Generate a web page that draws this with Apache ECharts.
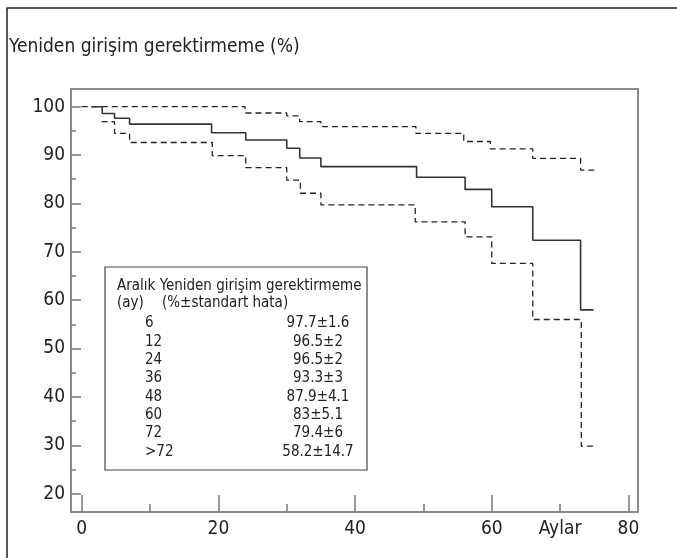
<!DOCTYPE html>
<html>
<head>
<meta charset="utf-8">
<script src="https://cdn.jsdelivr.net/npm/echarts@6/dist/echarts.min.js"></script>
<style>
  html, body { margin: 0; padding: 0; background: #fff; }
  #main { width: 677px; height: 558px; }
</style>
</head>
<body>
<div id="main"></div>
<script>
const FONT = '"Liberation Sans Narrow", "DejaVu Sans Condensed", "Arial Narrow", sans-serif';

// [ay, %] step points of the curves
const estimate = [[1.4, 100], [3.0, 98.6], [4.8, 97.6], [7.0, 96.4], [19.0, 94.6], [24.0, 93.1],
  [30.0, 91.4], [31.9, 89.4], [35.0, 87.6], [49.0, 85.4], [56.1, 82.9], [60.0, 79.3],
  [66.0, 72.4], [73.0, 58.0], [74.9, 58.0]];
const upperCI = [[0, 100], [23.9, 98.7], [30.0, 98.1], [31.9, 96.9], [35.0, 95.9], [48.9, 94.5],
  [55.9, 92.8], [59.8, 91.3], [66.0, 89.3], [73.0, 86.9], [75.2, 86.9]];
const lowerCI = [[2.9, 96.9], [4.8, 94.5], [7.0, 92.6], [19.1, 89.9], [24.0, 87.4], [30.0, 84.8],
  [32.0, 82.1], [35.0, 79.7], [48.8, 76.2], [56.1, 73.1], [60.0, 67.6], [66.0, 56.0],
  [73.1, 29.8], [74.9, 29.8]];

const xMajor = [0, 20, 40, 60, 80];
const xMinor = [10, 30, 50, 70];
const xLabels = [0, 20, 40, 60, 70, 80];
const yMajor = [20, 30, 40, 50, 60, 70, 80, 90, 100];
const yMinor = [25, 35, 45, 55, 65, 75, 85, 95];

const tableIntervals = ['6', '12', '24', '36', '48', '60', '72', '>72'];
const tableValues = ['97.7±1.6', '96.5±2', '96.5±2', '93.3±3', '87.9±4.1', '83±5.1', '79.4±6', '58.2±14.7'];

const X_MIN = -1.57, X_MAX = 81.4, Y_MIN = 16.2, Y_MAX = 103.66;
const gray = '#8a8a8a';
const TF = '15px ' + FONT;

const tableGraphic = [
  { type: 'rect', shape: { x: 105, y: 267, width: 262, height: 203 },
    style: { fill: '#fff', stroke: '#444', lineWidth: 1.2 } },
  { type: 'text', x: 117, y: 286, style: { text: 'Aralık Yeniden girişim gerektirmeme', font: TF, fill: '#222', verticalAlign: 'middle' } },
  { type: 'text', x: 117, y: 303, style: { text: '(ay)', font: TF, fill: '#222', verticalAlign: 'middle' } },
  { type: 'text', x: 162, y: 303, style: { text: '(%±standart hata)', font: TF, fill: '#222', verticalAlign: 'middle' } }
];
tableIntervals.forEach((t, i) => {
  const y = 323.3 + i * 18.34;
  tableGraphic.push({ type: 'text', x: 145, y: y, style: { text: t, font: TF, fill: '#222', verticalAlign: 'middle' } });
  tableGraphic.push({ type: 'text', x: 318, y: y, style: { text: tableValues[i], font: TF, fill: '#222', align: 'center', verticalAlign: 'middle' } });
});

const chart = echarts.init(document.getElementById('main'));
chart.setOption({
  animation: false,
  title: {
    text: 'Yeniden girişim gerektirmeme (%)',
    left: 4, top: 33,
    textStyle: { fontFamily: FONT, fontSize: 19, fontWeight: 'normal', color: '#222' }
  },
  grid: { left: 71, top: 89, right: 39, bottom: 46, show: true, borderColor: gray, borderWidth: 2, backgroundColor: 'transparent' },
  xAxis: [
    {
      type: 'value', min: X_MIN, max: X_MAX, position: 'bottom',
      axisLine: { show: true, onZero: false, lineStyle: { color: gray, width: 2 } },
      axisTick: { show: true, inside: true, length: 17, customValues: xMajor, lineStyle: { color: '#777', width: 1.5 } },
      axisLabel: { customValues: xLabels, formatter: v => (v === 70 ? 'Aylar' : String(v)), margin: 8,
        fontFamily: FONT, fontSize: 19, color: '#222' },
      splitLine: { show: false }
    },
    {
      type: 'value', min: X_MIN, max: X_MAX, position: 'bottom',
      axisLine: { show: false, onZero: false },
      axisTick: { show: true, inside: true, length: 8, customValues: xMinor, lineStyle: { color: '#777', width: 1.5 } },
      axisLabel: { show: false },
      splitLine: { show: false }
    }
  ],
  yAxis: [
    {
      type: 'value', min: Y_MIN, max: Y_MAX, position: 'left',
      axisLine: { show: true, onZero: false, lineStyle: { color: gray, width: 2 } },
      axisTick: { show: true, inside: true, length: 10, customValues: yMajor, lineStyle: { color: '#777', width: 1.5 } },
      axisLabel: { customValues: yMajor, margin: 6, fontFamily: FONT, fontSize: 19, color: '#222' },
      splitLine: { show: false }
    },
    {
      type: 'value', min: Y_MIN, max: Y_MAX, position: 'left',
      axisLine: { show: false, onZero: false },
      axisTick: { show: true, inside: true, length: 5, customValues: yMinor, lineStyle: { color: '#777', width: 1.5 } },
      axisLabel: { show: false },
      splitLine: { show: false }
    }
  ],
  graphic: [
    { type: 'rect', shape: { x: 7, y: 8, width: 700, height: 600 }, style: { fill: 'none', stroke: '#222', lineWidth: 1.5 }, z: 100 }
  ].concat(tableGraphic),
  series: [
    { type: 'line', data: upperCI, step: 'end', symbol: 'none', lineStyle: { color: '#222', width: 1.3, type: [6, 4] } },
    { type: 'line', data: lowerCI, step: 'end', symbol: 'none', lineStyle: { color: '#222', width: 1.3, type: [6, 4] } },
    { type: 'line', data: estimate, step: 'end', symbol: 'none', lineStyle: { color: '#333', width: 1.6 } }
  ]
});
</script>
</body>
</html>
